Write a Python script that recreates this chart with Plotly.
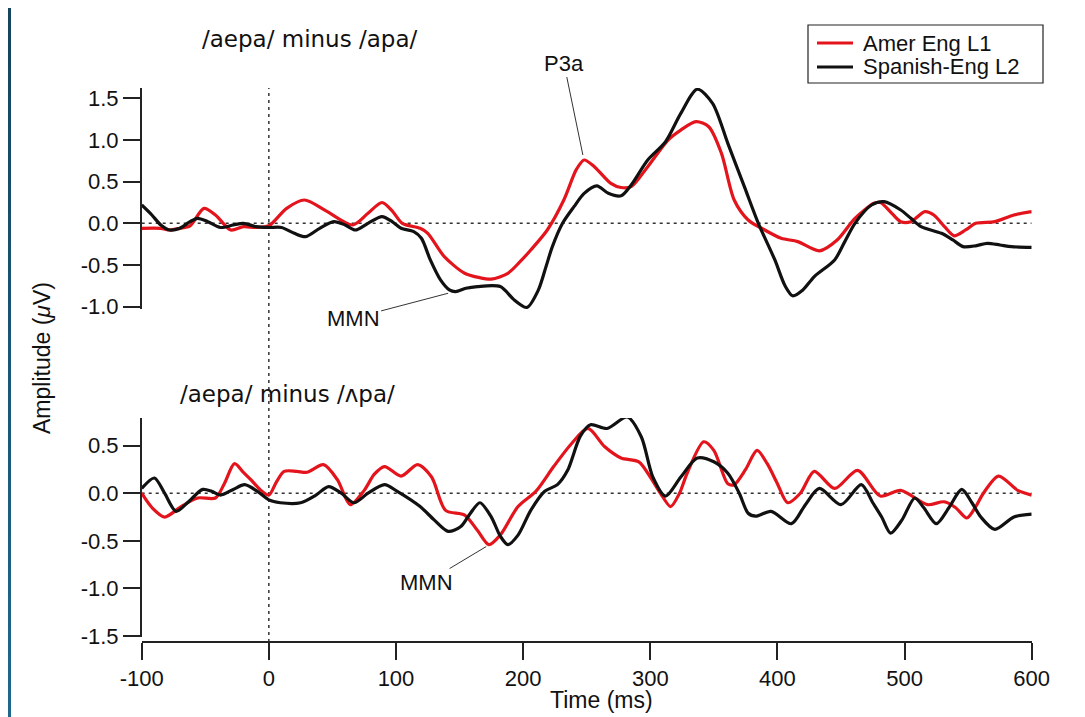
import plotly.graph_objects as go

# ---------------- data ----------------
top_red_t = [-100, -85, -78, -70, -62, -51, -42, -30, -20, -10, 0, 14, 28, 45, 66, 78, 89, 97, 105, 119, 125,
             138, 154, 165, 175, 188, 197, 206, 219, 232, 242, 248, 256, 269, 277, 285, 298, 314, 324, 336, 346,
             356, 366, 377, 390, 403, 416, 433, 447, 461, 476, 481, 490, 497, 505, 516, 523, 532, 539, 548, 556,
             571, 586, 600]
top_red_v = [-0.06, -0.06, -0.08, -0.06, -0.03, 0.18, 0.10, -0.08, -0.04, -0.05, -0.03, 0.18, 0.28, 0.15, -0.02,
             0.12, 0.25, 0.15, 0.00, -0.06, -0.12, -0.40, -0.60, -0.65, -0.67, -0.60, -0.47, -0.32, -0.08, 0.28,
             0.65, 0.76, 0.68, 0.48, 0.43, 0.44, 0.68, 1.00, 1.12, 1.22, 1.16, 0.84, 0.28, 0.04, -0.08, -0.18,
             -0.22, -0.33, -0.20, 0.06, 0.24, 0.25, 0.12, 0.02, 0.02, 0.14, 0.10, -0.05, -0.15, -0.08, 0.00,
             0.02, 0.10, 0.14]

top_blk_t = [-100, -92, -85, -78, -70, -62, -56, -48, -38, -28, -20, -10, 0, 10, 20, 29, 40, 51, 60, 68, 78, 89,
             97, 104, 114, 120, 127, 135, 142, 147, 155, 164, 182, 193, 203, 212, 218, 223, 231, 240, 248, 258,
             267, 277, 285, 298, 312, 324, 337, 349, 361, 374, 385, 398, 406, 412, 420, 429, 445, 453, 461, 474,
             484, 497, 505, 513, 529, 538, 546, 556, 565, 575, 584, 600]
top_blk_v = [0.22, 0.10, -0.02, -0.08, -0.06, 0.02, 0.06, 0.02, -0.05, -0.02, 0.00, -0.04, -0.05, -0.05, -0.12,
             -0.16, -0.06, 0.02, -0.02, -0.08, 0.00, 0.08, 0.02, -0.06, -0.10, -0.18, -0.44, -0.68, -0.80, -0.82,
             -0.78, -0.76, -0.76, -0.92, -1.01, -0.80, -0.52, -0.28, 0.00, 0.20, 0.36, 0.45, 0.36, 0.33, 0.46,
             0.76, 0.98, 1.32, 1.61, 1.44, 0.96, 0.44, 0.00, -0.44, -0.75, -0.87, -0.80, -0.64, -0.44, -0.22,
             0.00, 0.22, 0.26, 0.16, 0.06, -0.04, -0.12, -0.20, -0.28, -0.27, -0.24, -0.26, -0.28, -0.29]

bot_red_t = [-100, -92, -82, -69, -56, -42, -35, -27, -20, -14, -7, 0, 6, 12, 22, 30, 43, 54, 64, 75, 83, 91, 104,
             117, 128, 139, 154, 164, 173, 182, 196, 210, 224, 238, 251, 264, 277, 291, 300, 308, 316, 323, 329,
             342, 350, 361, 366, 375, 384, 392, 400, 408, 418, 429, 445, 463, 481, 497, 518, 531, 540, 549, 556,
             562, 574, 589, 600]
bot_red_v = [0.00, -0.15, -0.25, -0.14, -0.05, -0.05, 0.10, 0.31, 0.22, 0.14, 0.04, -0.02, 0.12, 0.23, 0.23, 0.22,
             0.30, 0.14, -0.12, 0.03, 0.20, 0.28, 0.18, 0.30, 0.17, -0.18, -0.23, -0.39, -0.54, -0.44, -0.14,
             0.02, 0.28, 0.52, 0.68, 0.49, 0.37, 0.33, 0.17, 0.00, -0.14, 0.00, 0.21, 0.54, 0.45, 0.10, 0.09,
             0.25, 0.45, 0.31, 0.10, -0.10, 0.00, 0.23, 0.05, 0.24, -0.03, 0.03, -0.12, -0.09, -0.15, -0.26,
             -0.14, 0.00, 0.18, 0.03, -0.02]

bot_blk_t = [-100, -90, -82, -73, -64, -52, -45, -38, -28, -19, -9, 0, 9, 25, 37, 47, 57, 67, 78, 91, 101, 119, 130,
             141, 151, 158, 166, 175, 182, 188, 196, 206, 217, 227, 235, 245, 253, 266, 282, 293, 302, 312, 324,
             337, 350, 361, 370, 377, 383, 395, 411, 422, 433, 450, 466, 475, 482, 489, 498, 508, 515, 525, 535,
             545, 553, 560, 571, 586, 600]
bot_blk_v = [0.05, 0.16, 0.00, -0.19, -0.10, 0.04, 0.02, -0.02, 0.04, 0.09, 0.02, -0.07, -0.10, -0.10, -0.02, 0.07,
             0.00, -0.10, 0.00, 0.09, 0.02, -0.14, -0.28, -0.40, -0.35, -0.22, -0.10, -0.25, -0.45, -0.54, -0.44,
             -0.18, 0.02, 0.09, 0.24, 0.60, 0.72, 0.68, 0.80, 0.59, 0.17, -0.03, 0.17, 0.37, 0.33, 0.21, 0.00,
             -0.21, -0.24, -0.19, -0.32, -0.12, 0.05, -0.12, 0.09, -0.10, -0.25, -0.42, -0.28, -0.05, -0.15,
             -0.32, -0.15, 0.04, -0.10, -0.25, -0.38, -0.25, -0.22]

series_names = ["Amer Eng L1", "Spanish-Eng L2"]
x_tick_vals = [-100, 0, 100, 200, 300, 400, 500, 600]
x_tick_text = ["-100", "0", "100", "200", "300", "400", "500", "600"]
top_y_vals = [-1.0, -0.5, 0.0, 0.5, 1.0, 1.5]
top_y_text = ["-1.0", "-0.5", "0.0", "0.5", "1.0", "1.5"]
bot_y_vals = [-1.5, -1.0, -0.5, 0.0, 0.5]
bot_y_text = ["-1.5", "-1.0", "-0.5", "0.0", "0.5"]
titles = ["/aepa/ minus /apa/", "/aepa/ minus /\u028cpa/"]

# ---------------- styling ----------------
OFF = 8                     # page body margin
W, H = 1085 - OFF, 717 - OFF
RED = "#e3141c"
BLK = "#111111"
AX = "#222222"
TXT_FONT = "Liberation Sans, Arial, Helvetica, sans-serif"
TITLE_FONT = "DejaVu Sans, sans-serif"


def px(xp):
    """window pixel x -> paper fraction"""
    return (xp - OFF) / W


def py(yp):
    """window pixel y -> paper fraction"""
    return 1 - (yp - OFF) / H


fig = go.Figure()
line_style = dict(width=3.2, shape="spline", smoothing=0.8)
colors = [RED, BLK]
panels = [((top_red_t, top_red_v), (top_blk_t, top_blk_v), "x", "y"),
          ((bot_red_t, bot_red_v), (bot_blk_t, bot_blk_v), "x2", "y2")]
for red, blk, xa, ya in panels:
    for (t, v), c, nm in zip((red, blk), colors, series_names):
        fig.add_trace(go.Scatter(x=t, y=v, mode="lines", name=nm, showlegend=False,
                                 line=dict(color=c, **line_style), xaxis=xa, yaxis=ya))

xdom = [px(141.7), px(1031.7)]
top_dom = [py(309), py(88)]
bot_dom = [py(637), py(418)]
xrng = [-100, 600]

tickfont = dict(family=TXT_FONT, size=22, color="#111")
yaxis_common = dict(showline=True, linecolor=AX, linewidth=1.5, ticks="outside", ticklen=17, tickwidth=1.5,
                    tickcolor=AX, showgrid=False, zeroline=False, tickfont=tickfont)

fig.update_layout(
    width=W, height=H, autosize=False,
    margin=dict(l=0, r=0, t=0, b=0, pad=0, autoexpand=False),
    paper_bgcolor="white", plot_bgcolor="white",
    showlegend=False,
    xaxis=dict(domain=xdom, range=xrng, visible=False, anchor="y"),
    yaxis=dict(domain=top_dom, range=[-1.029, 1.625], anchor="x", tickvals=top_y_vals, ticktext=top_y_text,
               **yaxis_common),
    xaxis2=dict(domain=xdom, range=xrng, anchor="free", position=py(642), showline=True, linecolor=AX,
                linewidth=1.5, ticks="outside", ticklen=17, tickwidth=1.5, tickcolor=AX, showgrid=False,
                zeroline=False, tickvals=x_tick_vals, ticktext=x_tick_text, tickfont=tickfont),
    yaxis2=dict(domain=bot_dom, range=[-1.51, 0.79], anchor="x2", tickvals=bot_y_vals, ticktext=bot_y_text,
                **yaxis_common),
)

shapes = []
# zero lines
for xr, yr in (("x", "y"), ("x2", "y2")):
    shapes.append(dict(type="line", xref=xr, yref=yr, x0=xrng[0], x1=xrng[1], y0=0, y1=0,
                       line=dict(color="#333", width=1.5, dash="3px,4px"), layer="below"))
# stimulus onset line
shapes.append(dict(type="line", xref="x", yref="paper", x0=0, x1=0, y0=py(642), y1=py(88),
                   line=dict(color="#333", width=1.5, dash="3px,4px"), layer="below"))

# dark gradient frame on the left edge
n = 24
c_top = (21, 68, 95)
c_bot = (29, 104, 138)
for i in range(n):
    f = i / (n - 1)
    c = tuple(int(round(a + (b - a) * f)) for a, b in zip(c_top, c_bot))
    shapes.append(dict(type="rect", xref="paper", yref="paper", x0=0, x1=px(11),
                       y0=1 - (i + 1) / n, y1=1 - i / n + 0.001, line=dict(width=0),
                       fillcolor="rgb(%d,%d,%d)" % c, layer="above"))

# legend box (drawn by hand)
shapes.append(dict(type="rect", xref="paper", yref="paper", x0=px(808), x1=px(1043), y0=py(83), y1=py(25),
                   line=dict(color="#222", width=1.2), fillcolor="white", layer="above"))
legend_rows = [43, 67]
for c, yy in zip(colors, legend_rows):
    shapes.append(dict(type="line", xref="paper", yref="paper", x0=px(817), x1=px(853), y0=py(yy), y1=py(yy),
                       line=dict(color=c, width=3.2), layer="above"))
fig.update_layout(shapes=shapes)

annot_font = dict(family=TXT_FONT, size=22, color="#111")
annotations = [
    dict(text=titles[0], xref="paper", yref="paper", x=px(200), y=py(39), xanchor="left", yanchor="middle",
         showarrow=False, font=dict(family=TITLE_FONT, size=23, color="#111")),
    dict(text=titles[1], xref="paper", yref="paper", x=px(178), y=py(394), xanchor="left", yanchor="middle",
         showarrow=False, font=dict(family=TITLE_FONT, size=23, color="#111")),
    dict(text="Amplitude (<i>\u03bc</i>V)", xref="paper", yref="paper", x=px(42), y=py(358), textangle=-90,
         xanchor="center", yanchor="middle", showarrow=False, font=dict(family=TXT_FONT, size=23, color="#111")),
    dict(text="Time (ms)", xref="paper", yref="paper", x=px(601), y=py(700), xanchor="center", yanchor="middle",
         showarrow=False, font=dict(family=TXT_FONT, size=23, color="#111")),
    dict(text="P3a", xref="x", yref="y", x=247, y=0.82, ax=-19, ay=-92, showarrow=True, arrowhead=0,
         arrowwidth=1, arrowcolor="#333", font=annot_font),
    dict(text="MMN", xref="x", yref="y", x=141, y=-0.84, ax=-95, ay=25, showarrow=True, arrowhead=0,
         arrowwidth=1, arrowcolor="#333", font=annot_font),
    dict(text="MMN", xref="x2", yref="y2", x=171, y=-0.56, ax=-60, ay=36, showarrow=True, arrowhead=0,
         arrowwidth=1, arrowcolor="#333", font=annot_font),
]
for nm, yy in zip(series_names, legend_rows):
    annotations.append(dict(text=nm, xref="paper", yref="paper", x=px(861), y=py(yy), xanchor="left",
                            yanchor="middle", showarrow=False, font=annot_font))
fig.update_layout(annotations=annotations)

fig.write_html("out.html")
